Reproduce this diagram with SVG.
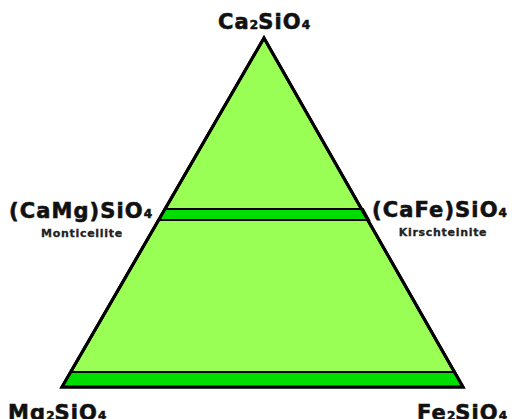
<svg xmlns="http://www.w3.org/2000/svg" width="512" height="419" viewBox="0 0 512 419">
<style>
.lbl{font-family:"DejaVu Sans",sans-serif;font-weight:bold;fill:#111;stroke:#111;stroke-width:0.6px;font-size:21px;letter-spacing:1.1px}
.sub{font-size:12px;letter-spacing:0}
.min{font-family:"DejaVu Sans",sans-serif;font-weight:bold;fill:#222;stroke:#222;stroke-width:0.3px;font-size:11px;letter-spacing:0.7px}
.edge{stroke:#000;stroke-width:3;stroke-linejoin:miter}
</style>
<rect width="512" height="419" fill="#fff"/>
<g id="triangle">
<polygon points="264,38 62,387 463,387" fill="#99ff55" class="edge"/>
</g>
<g id="connectors">
<polygon points="165,209 363,209 369,220 159,220" fill="#00dd00" stroke="#000" stroke-width="2"/>
<polygon points="71,372 454,372 463,387 62,387" fill="#00dd00" stroke="#000" stroke-width="2"/>
<polygon points="264,38 62,387 463,387" fill="none" class="edge"/>
</g>
<g id="ca2sio4"><text class="lbl" x="264" y="29" text-anchor="middle">Ca<tspan class="sub">2</tspan>SiO<tspan class="sub">4</tspan></text></g>
<g id="camg"><text class="lbl" x="9" y="218">(CaMg)SiO<tspan class="sub">4</tspan></text>
<text class="min" x="82" y="237" text-anchor="middle">Monticellite</text></g>
<g id="cafe"><text class="lbl" x="372" y="217">(CaFe)SiO<tspan class="sub">4</tspan></text>
<text class="min" x="443" y="236" text-anchor="middle">Kirschteinite</text></g>
<g id="mg2sio4"><text class="lbl" x="8" y="420">Mg<tspan class="sub">2</tspan>SiO<tspan class="sub">4</tspan></text></g>
<g id="fe2sio4"><text class="lbl" x="417" y="420">Fe<tspan class="sub">2</tspan>SiO<tspan class="sub">4</tspan></text></g>
</svg>
